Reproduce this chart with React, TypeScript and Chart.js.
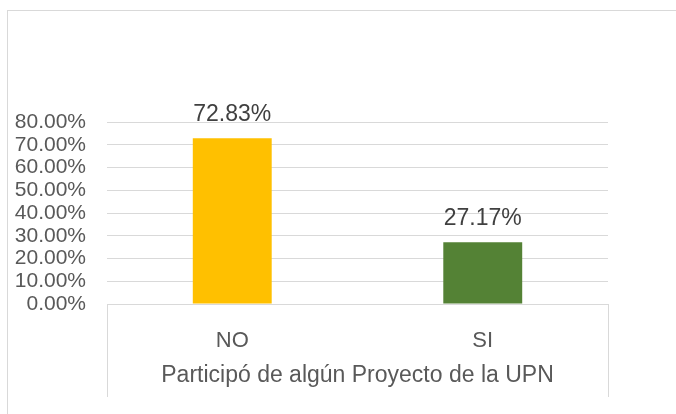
import React, { useEffect, useRef } from "react";
import { Chart, registerables } from "chart.js";

Chart.register(...registerables);

const categories = ["NO", "SI"];
const values = [72.83, 27.17];
const barColors = ["#FFC000", "#548235"];
const yTicks = [0, 10, 20, 30, 40, 50, 60, 70, 80];
const axisTitle = "Participó de algún Proyecto de la UPN";

const FONT = "'Liberation Sans', Arial, sans-serif";

const valueLabels = {
  id: "valueLabels",
  afterDatasetsDraw(chart: any) {
    const ctx = chart.ctx;
    const meta = chart.getDatasetMeta(0);
    ctx.save();
    ctx.font = `23px ${FONT}`;
    ctx.fillStyle = "#404040";
    ctx.textAlign = "center";
    ctx.textBaseline = "alphabetic";
    meta.data.forEach((bar: any, i: number) => {
      ctx.fillText(values[i].toFixed(2) + "%", bar.x, bar.y - 17);
    });
    ctx.restore();
  },
};

const axisEdges = {
  id: "axisEdges",
  afterDraw(chart: any) {
    const ctx = chart.ctx;
    const { left, right, bottom } = chart.chartArea;
    ctx.save();
    ctx.strokeStyle = "#d9d9d9";
    ctx.lineWidth = 1;
    ctx.beginPath();
    [left, right].forEach((x: number) => {
      const px = Math.round(x) + 0.5;
      ctx.moveTo(px, bottom);
      ctx.lineTo(px, bottom + 93);
    });
    ctx.stroke();
    ctx.restore();
  },
};

export default function App() {
  const ref = useRef<HTMLCanvasElement>(null);
  useEffect(() => {
    const chart = new Chart(ref.current!, {
      type: "bar",
      data: {
        labels: categories,
        datasets: [
          {
            data: values,
            backgroundColor: barColors,
            categoryPercentage: 1,
            barPercentage: 0.315,
          },
        ],
      },
      options: {
        animation: false,
        responsive: false,
        maintainAspectRatio: false,
        layout: { padding: { top: 122, left: 0, right: 68, bottom: 0 } },
        plugins: { legend: { display: false }, tooltip: { enabled: false } },
        scales: {
          x: {
            grid: { display: false, drawTicks: false },
            border: { display: true, color: "#d9d9d9", width: 1 },
            ticks: {
              color: "#595959",
              font: { family: FONT, size: 22 },
              padding: 24,
              maxRotation: 0,
            },
            title: {
              display: true,
              text: axisTitle,
              color: "#595959",
              font: { family: FONT, size: 23 },
              padding: { top: 0, bottom: 25 },
            },
            afterFit(scale: any) {
              scale.height = 110;
            },
          },
          y: {
            min: 0,
            max: 80,
            afterBuildTicks(scale: any) {
              scale.ticks = yTicks.map((v) => ({ value: v }));
            },
            grid: { color: "#d9d9d9", drawTicks: false, lineWidth: 1 },
            border: { display: false },
            ticks: {
              autoSkip: false,
              color: "#595959",
              font: { family: FONT, size: 21 },
              padding: 21,
              callback: (v: any) => Number(v).toFixed(2) + "%",
            },
            afterFit(scale: any) {
              scale.width = 107;
            },
          },
        },
      },
      plugins: [valueLabels, axisEdges],
    });
    return () => chart.destroy();
  }, []);

  return (
    <div style={{ position: "fixed", left: 0, top: 0, width: 676, height: 414, background: "#fff", overflow: "hidden" }}>
      <div
        style={{
          position: "absolute",
          left: 7,
          top: 10,
          width: 720,
          height: 460,
          border: "1px solid #d9d9d9",
          boxSizing: "border-box",
        }}
      />
      <canvas ref={ref} width={676} height={414} style={{ position: "absolute", left: 0, top: 0 }} />
    </div>
  );
}
